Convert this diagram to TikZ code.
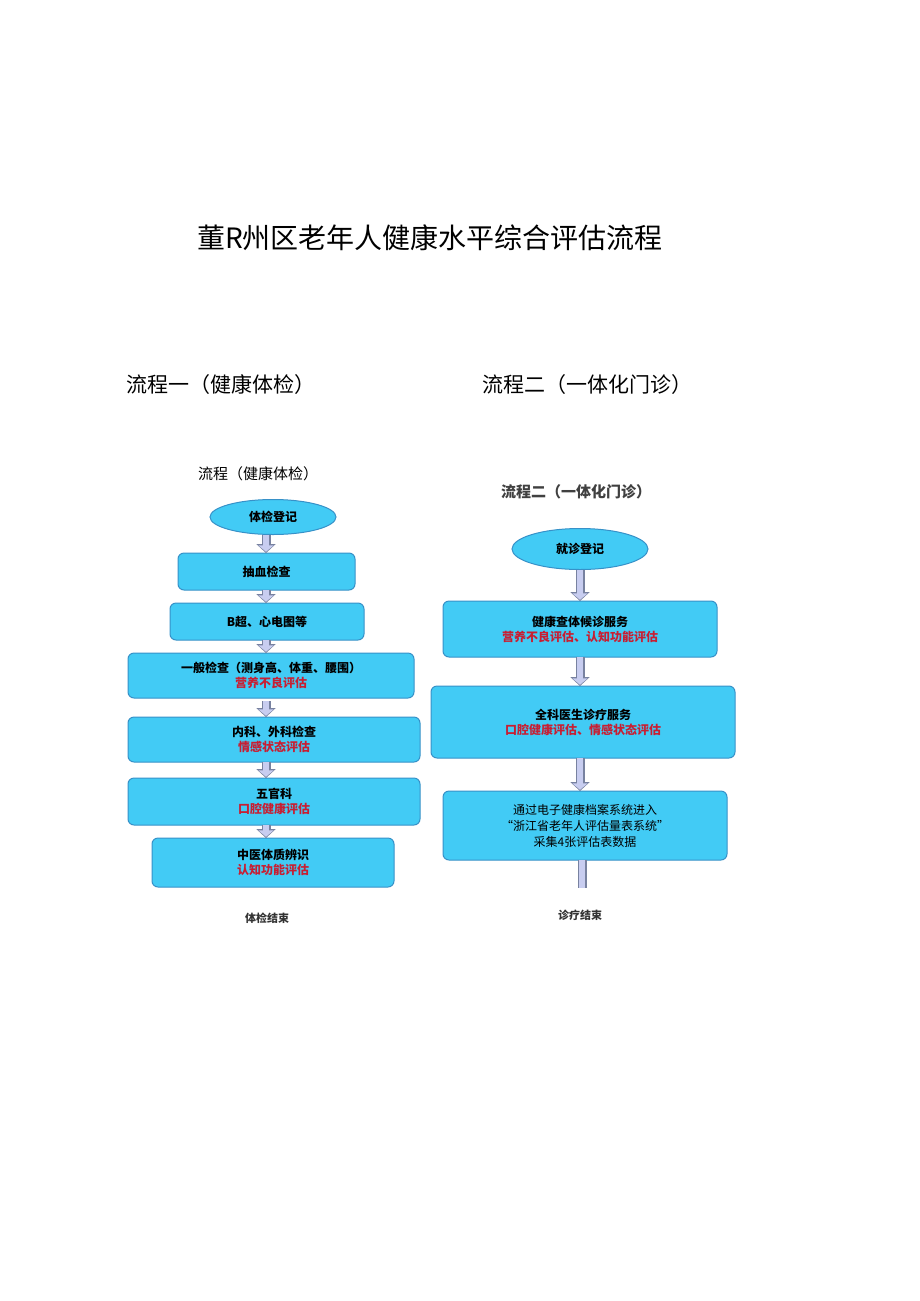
\documentclass[tikz,border=0pt]{standalone}
\usepackage{fontspec}
\setmainfont{Noto Sans CJK SC}
\usetikzlibrary{arrows.meta,shapes.geometric}
\definecolor{boxc}{RGB}{66,203,245}
\definecolor{boxb}{RGB}{55,145,200}
\definecolor{redt}{RGB}{200,30,50}
\definecolor{arrf}{RGB}{200,205,240}
\definecolor{arrb}{RGB}{120,130,160}
\tikzset{
 bx/.style={draw=boxb,line width=1pt,fill=boxc,rounded corners=6pt,inner sep=0pt,font=\fontsize{12}{15}\selectfont\bfseries,align=center},
 ov/.style={draw=boxb,line width=1pt,fill=boxc,ellipse,inner sep=0pt,font=\fontsize{12}{15}\selectfont\bfseries},
 arO/.style={draw=arrb,line width=9pt,-{Triangle[width=19pt,length=9pt]}},
 arI/.style={draw=arrf,line width=6.5pt,-{Triangle[width=15pt,length=6.5pt]},shorten >=1.2pt},
 shO/.style={draw=arrb,line width=9pt},
 shI/.style={draw=arrf,line width=6.5pt},
}
\newcommand{\rt}[1]{\textcolor{redt}{#1}}
\newcommand{\fat}[2]{\draw[arO] (#1) -- (#2); \draw[arI] (#1) -- (#2);}
\begin{document}
\begin{tikzpicture}[x=1pt,y=-1pt]
\useasboundingbox (0,0) rectangle (920,1301);
\node (title) at (430,238) {\fontsize{28}{32}\selectfont 董R州区老年人健康水平综合评估流程};
\node (h1) at (221,385) {\fontsize{21}{25}\selectfont 流程一（健康体检）};
\node (h2) at (587,385) {\fontsize{21}{25}\selectfont 流程二（一体化门诊）};
\node (s1) at (258,474) {\fontsize{15}{18}\selectfont 流程（健康体检）};
\node[text=black!75] (s2) at (576,492) {\fontsize{15}{18}\selectfont\bfseries 流程二（一体化门诊）};
% left
\node[ov,minimum width=126pt,minimum height=35pt] (l0) at (273,517) {体检登记};
\node[bx,minimum width=177pt,minimum height=37pt] (l1) at (266.5,571.5) {抽血检查};
\node[bx,minimum width=194pt,minimum height=37pt] (l2) at (267,621.5) {B超、心电图等};
\node[bx,minimum width=286pt,minimum height=45pt] (l3) at (271,675.5) {一般检查（测身高、体重、腰围）\\\rt{营养不良评估}};
\node[bx,minimum width=292pt,minimum height=45pt] (l4) at (274,739.5) {内科、外科检查\\\rt{情感状态评估}};
\node[bx,minimum width=292pt,minimum height=47pt] (l5) at (274,801.5) {五官科\\\rt{口腔健康评估}};
\node[bx,minimum width=242pt,minimum height=49pt] (l6) at (273,862.5) {中医体质辨识\\\rt{认知功能评估}};
\node[font=\fontsize{11}{13}\selectfont\bfseries,text=black!80] (le) at (267,918) {体检结束};
\coordinate (a0) at (266,535); \coordinate (b0) at (266,553);
\coordinate (a1) at (266,590); \coordinate (b1) at (266,603);
\coordinate (a2) at (266,640); \coordinate (b2) at (266,653);
\coordinate (a3) at (266,701); \coordinate (b3) at (266,717);
\coordinate (a4) at (266,762); \coordinate (b4) at (266,778);
\coordinate (a5) at (266,825); \coordinate (b5) at (266,838);
\fat{a0}{b0}\fat{a1}{b1}\fat{a2}{b2}\fat{a3}{b3}\fat{a4}{b4}\fat{a5}{b5}
% right
\node[ov,minimum width=136pt,minimum height=41pt] (r0) at (580,549) {就诊登记};
\node[bx,minimum width=274pt,minimum height=56pt] (r1) at (580,629) {健康查体候诊服务\\\rt{营养不良评估、认知功能评估}};
\node[bx,minimum width=304pt,minimum height=72pt] (r2) at (583,722) {全科医生诊疗服务\\\rt{口腔健康评估、情感状态评估}};
\node[bx,minimum width=284pt,minimum height=69pt,font=\fontsize{12}{16}\selectfont] (r3) at (585,825.5) {通过电子健康档案系统进入\\“浙江省老年人评估量表系统”\\采集4张评估表数据};
\node[font=\fontsize{11}{13}\selectfont\bfseries,text=black!80] (re) at (580,915) {诊疗结束};
\coordinate (c0) at (580,570); \coordinate (d0) at (580,601);
\coordinate (c1) at (580,657); \coordinate (d1) at (580,686);
\coordinate (c2) at (580,758); \coordinate (d2) at (580,791);
\fat{c0}{d0}\fat{c1}{d1}\fat{c2}{d2}
\coordinate (c3) at (582,860); \coordinate (d3) at (582,888);
\draw[shO] (c3) -- (d3); \draw[shI] (c3) -- (d3);
\end{tikzpicture}
\end{document}
